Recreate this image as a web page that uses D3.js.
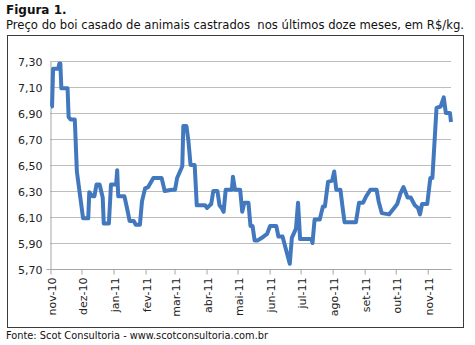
<!DOCTYPE html>
<html>
<head>
<meta charset="utf-8">
<script src="https://cdn.jsdelivr.net/npm/d3@7"></script>
<style>
  body { margin: 0; background: #fff; }
  text { font-family: "DejaVu Sans", sans-serif; }
</style>
</head>
<body>
<div id="chart"></div>
<script>
// price of "boi casado" (R$/kg)
const dates = [
  "2010-11-02", "2010-11-03", "2010-11-04", "2010-11-09", "2010-11-10", "2010-11-11", "2010-11-12",
  "2010-11-18", "2010-11-19", "2010-11-21", "2010-11-25", "2010-11-27", "2010-11-30", "2010-12-03",
  "2010-12-08", "2010-12-09", "2010-12-12", "2010-12-14", "2010-12-16", "2010-12-19", "2010-12-22",
  "2010-12-23", "2010-12-28", "2010-12-30", "2011-01-04", "2011-01-05", "2011-01-06", "2011-01-12",
  "2011-01-15", "2011-01-17", "2011-01-21", "2011-01-23", "2011-01-27", "2011-01-29", "2011-02-01",
  "2011-02-04", "2011-02-09", "2011-02-17", "2011-02-20", "2011-02-27", "2011-03-02", "2011-03-04",
  "2011-03-09", "2011-03-10", "2011-03-13", "2011-03-15", "2011-03-17", "2011-03-21", "2011-03-23",
  "2011-03-31", "2011-04-02", "2011-04-06", "2011-04-08", "2011-04-12", "2011-04-14", "2011-04-16",
  "2011-04-18", "2011-04-20", "2011-04-26", "2011-04-27", "2011-04-29", "2011-05-04", "2011-05-06",
  "2011-05-08", "2011-05-12", "2011-05-14", "2011-05-16", "2011-05-18", "2011-05-21", "2011-05-25",
  "2011-05-30", "2011-06-02", "2011-06-08", "2011-06-10", "2011-06-14", "2011-06-19", "2011-06-21",
  "2011-06-23", "2011-06-27", "2011-06-29", "2011-07-01", "2011-07-12", "2011-07-13", "2011-07-15",
  "2011-07-20", "2011-07-23", "2011-07-25", "2011-07-28", "2011-08-01", "2011-08-03", "2011-08-05",
  "2011-08-09", "2011-08-11", "2011-08-13", "2011-08-24", "2011-08-27", "2011-08-31", "2011-09-03",
  "2011-09-07", "2011-09-13", "2011-09-15", "2011-09-18", "2011-09-25", "2011-09-30", "2011-10-03",
  "2011-10-06", "2011-10-09", "2011-10-13", "2011-10-16", "2011-10-20", "2011-10-23", "2011-10-25",
  "2011-10-27", "2011-11-01", "2011-11-04", "2011-11-06", "2011-11-10", "2011-11-14", "2011-11-17",
  "2011-11-19", "2011-11-23", "2011-11-24"
];
const prices = [
  6.95, 6.95, 7.24, 7.24, 7.28, 7.28, 7.09,
  7.09, 6.87, 6.85, 6.85, 6.45, 6.27, 6.09,
  6.09, 6.29, 6.26, 6.26, 6.35, 6.35, 6.25,
  6.05, 6.05, 6.35, 6.35, 6.46, 6.26, 6.26,
  6.15, 6.07, 6.07, 6.04, 6.04, 6.22, 6.32,
  6.33, 6.40, 6.40, 6.30, 6.31, 6.31, 6.40,
  6.49, 6.80, 6.80, 6.68, 6.50, 6.50, 6.19,
  6.19, 6.17, 6.20, 6.30, 6.30, 6.19, 6.17,
  6.14, 6.31, 6.31, 6.41, 6.31, 6.31, 6.14,
  6.21, 6.21, 6.03, 6.03, 5.92, 5.92, 5.94,
  5.97, 6.03, 6.03, 5.95, 5.95, 5.80, 5.74,
  5.94, 6.01, 6.21, 5.93, 5.93, 5.90, 6.08,
  6.08, 6.18, 6.18, 6.37, 6.38, 6.45, 6.31,
  6.31, 6.18, 6.06, 6.06, 6.21, 6.21, 6.26,
  6.31, 6.31, 6.22, 6.13, 6.12, 6.17, 6.20,
  6.28, 6.33, 6.25, 6.25, 6.19, 6.17, 6.12,
  6.20, 6.20, 6.40, 6.40, 6.94, 6.95, 7.02,
  6.90, 6.90, 6.83
];
const yTicks = [5.70, 5.90, 6.10, 6.30, 6.50, 6.70, 6.90, 7.10, 7.30];
const monthNames = ["jan", "fev", "mar", "abr", "mai", "jun", "jul", "ago", "set", "out", "nov", "dez"];
const monthTicks = ["2010-11-01", "2010-12-01", "2011-01-01", "2011-02-01", "2011-03-01", "2011-04-01",
  "2011-05-01", "2011-06-01", "2011-07-01", "2011-08-01", "2011-09-01", "2011-10-01", "2011-11-01"];

const W = 475, H = 345;
const parse = d3.timeParse("%Y-%m-%d");
const data = dates.map((d, i) => ({ date: parse(d), v: prices[i] }));

const svg = d3.select("#chart").append("svg")
    .attr("width", W)
    .attr("height", H);

svg.append("text")
    .attr("x", 6).attr("y", 14)
    .style("font-size", "12px")
    .style("font-weight", "bold")
    .attr("fill", "#111")
    .text("Figura 1.");

svg.append("text")
    .attr("x", 6).attr("y", 29)
    .style("font-size", "11.5px")
    .style("white-space", "pre")
    .attr("fill", "#111")
    .attr("textLength", 458)
    .attr("lengthAdjust", "spacingAndGlyphs")
    .text("Preço do boi casado de animais castrados  nos últimos doze meses, em R$/kg.");

// frame
svg.append("rect")
    .attr("x", 7.5).attr("y", 35.5)
    .attr("width", 456).attr("height", 292)
    .attr("fill", "none")
    .attr("stroke", "#3a3a3a")
    .attr("stroke-width", 1);

svg.append("text")
    .attr("x", 6).attr("y", 339)
    .style("font-size", "11px")
    .attr("fill", "#111")
    .attr("textLength", 262)
    .attr("lengthAdjust", "spacingAndGlyphs")
    .text("Fonte: Scot Consultoria - www.scotconsultoria.com.br");

const x = d3.scaleTime()
    .domain([parse("2010-11-01"), parse("2011-11-24")])
    .range([50, 451]);

const y = d3.scaleLinear()
    .domain([5.70, 7.30])
    .range([269, 61]);

const fmt = v => d3.format(".2f")(v).replace(".", ",");

// grid
svg.append("g")
    .selectAll("line")
    .data(yTicks.slice(1))
    .join("line")
    .attr("x1", 50).attr("x2", 451)
    .attr("y1", d => Math.round(y(d)) + 0.5)
    .attr("y2", d => Math.round(y(d)) + 0.5)
    .attr("stroke", "#bdbdbd");

// y axis
const axisL = d3.axisLeft(y)
    .tickValues(yTicks)
    .tickFormat(fmt)
    .tickSize(0)
    .tickPadding(8);

svg.append("g")
    .attr("transform", "translate(50.5,0.5)")
    .call(axisL)
    .call(g => g.select(".domain").attr("stroke", "#a6a6a6"))
    .selectAll("text")
    .style("font-size", "11px")
    .style("font-family", "DejaVu Sans")
    .attr("fill", "#222");

// x axis
const axisB = d3.axisBottom(x)
    .tickValues(monthTicks.map(parse))
    .tickFormat(d => monthNames[d.getMonth()] + "-" + d3.timeFormat("%y")(d))
    .tickSizeInner(5)
    .tickSizeOuter(0)
    .tickPadding(6);

svg.append("g")
    .attr("transform", "translate(0.5,269.5)")
    .call(axisB)
    .call(g => g.select(".domain").attr("stroke", "#a6a6a6").attr("d", "M46,0H451"))
    .call(g => g.selectAll(".tick line").attr("stroke", "#a6a6a6"))
    .selectAll("text")
    .style("font-size", "11px")
    .style("font-family", "DejaVu Sans")
    .attr("fill", "#222")
    .attr("text-anchor", "end")
    .attr("dy", "0.35em")
    .attr("transform", "translate(1,8) rotate(-90)")
    .attr("x", 0)
    .attr("y", 0);

const line = d3.line()
    .x(d => x(d.date))
    .y(d => y(d.v));

svg.append("path")
    .datum(data)
    .attr("fill", "none")
    .attr("stroke", "#4178be")
    .attr("stroke-width", 4)
    .attr("stroke-linejoin", "round")
    .attr("d", line);
</script>
</body>
</html>
